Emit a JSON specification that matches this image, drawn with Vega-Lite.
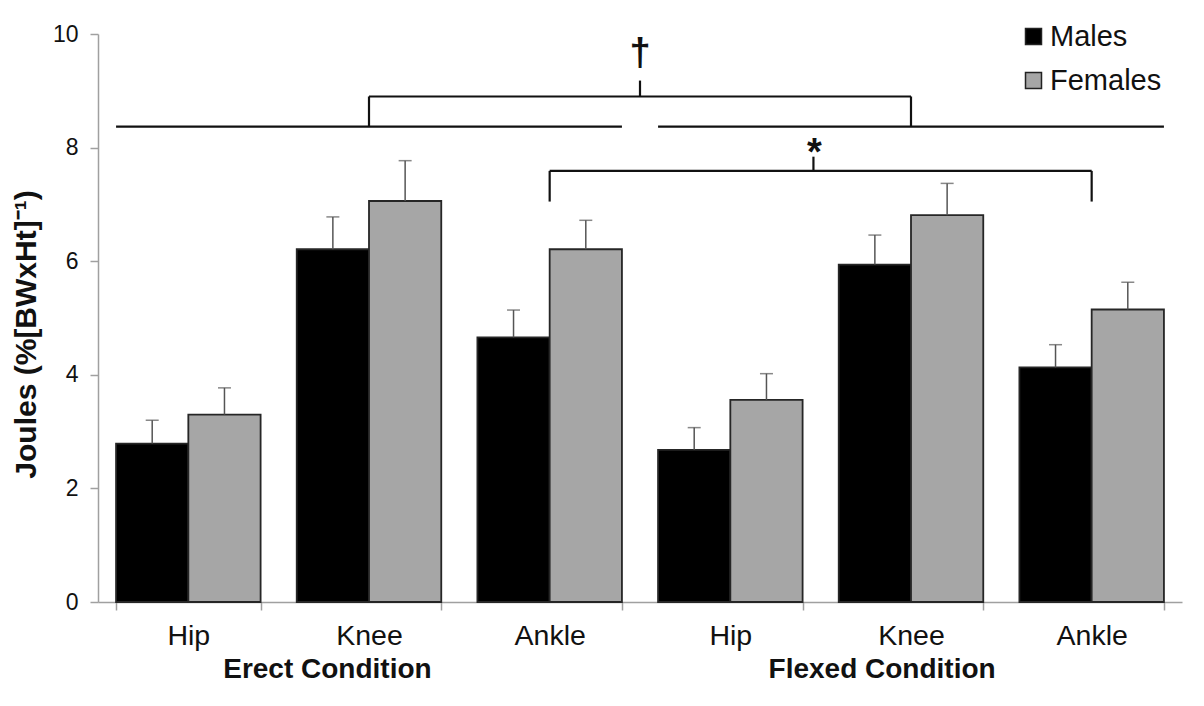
{
  "$schema": "https://vega.github.io/schema/vega-lite/v6.json",
  "width": 1084,
  "height": 568,
  "autosize": {"type": "none"},
  "padding": {"left": 98, "top": 34, "right": 22, "bottom": 104},
  "background": "white",
  "config": {"view": {"stroke": null}, "font": "Liberation Sans"},
  "datasets": {
    "bars": [
      {"key": "Erect|Hip", "sex": "Males", "value": 2.79, "upper": 3.20},
      {"key": "Erect|Hip", "sex": "Females", "value": 3.30, "upper": 3.77},
      {"key": "Erect|Knee", "sex": "Males", "value": 6.21, "upper": 6.78},
      {"key": "Erect|Knee", "sex": "Females", "value": 7.06, "upper": 7.77},
      {"key": "Erect|Ankle", "sex": "Males", "value": 4.66, "upper": 5.14},
      {"key": "Erect|Ankle", "sex": "Females", "value": 6.21, "upper": 6.72},
      {"key": "Flexed|Hip", "sex": "Males", "value": 2.68, "upper": 3.07},
      {"key": "Flexed|Hip", "sex": "Females", "value": 3.56, "upper": 4.02},
      {"key": "Flexed|Knee", "sex": "Males", "value": 5.94, "upper": 6.46},
      {"key": "Flexed|Knee", "sex": "Females", "value": 6.81, "upper": 7.37},
      {"key": "Flexed|Ankle", "sex": "Males", "value": 4.13, "upper": 4.53},
      {"key": "Flexed|Ankle", "sex": "Females", "value": 5.15, "upper": 5.63}
    ],
    "lines": [
      {"x": 0.1, "x2": 2.9, "y": 8.37, "y2": 8.37},
      {"x": 3.1, "x2": 5.9, "y": 8.37, "y2": 8.37},
      {"x": 1.5, "x2": 4.5, "y": 8.9, "y2": 8.9},
      {"x": 1.5, "x2": 1.5, "y": 8.37, "y2": 8.9},
      {"x": 4.5, "x2": 4.5, "y": 8.37, "y2": 8.9},
      {"x": 3.0, "x2": 3.0, "y": 8.9, "y2": 9.18},
      {"x": 2.5, "x2": 5.5, "y": 7.59, "y2": 7.59},
      {"x": 2.5, "x2": 2.5, "y": 7.05, "y2": 7.59},
      {"x": 5.5, "x2": 5.5, "y": 7.05, "y2": 7.59},
      {"x": 3.96, "x2": 3.96, "y": 7.59, "y2": 7.84}
    ],
    "symbols": [
      {"x": 3.0, "y": 9.46, "text": "†"},
      {"x": 3.965, "y": 7.7, "text": "*"}
    ],
    "conditions": [
      {"x": 1.27, "y": -1.34, "text": "Erect Condition"},
      {"x": 4.34, "y": -1.34, "text": "Flexed Condition"}
    ]
  },
  "layer": [
    {
      "data": {"name": "bars"},
      "encoding": {
        "x": {
          "field": "key",
          "type": "nominal",
          "sort": ["Erect|Hip", "Erect|Knee", "Erect|Ankle", "Flexed|Hip", "Flexed|Knee", "Flexed|Ankle"],
          "scale": {"paddingInner": 0.2, "paddingOuter": 0.1},
          "axis": {
            "title": null,
            "labelExpr": "split(datum.label, '|')[1]",
            "labelAngle": 0,
            "labelFontSize": 28.5,
            "labelColor": "#111111",
            "labelPadding": 11,
            "tickBand": "extent",
            "tickSize": 8,
            "tickColor": "#a0a0a0",
            "domainColor": "#a0a0a0",
            "tickWidth": 1.5,
            "domainWidth": 1.5
          }
        },
        "xOffset": {
          "field": "sex",
          "type": "nominal",
          "sort": ["Males", "Females"],
          "scale": {"paddingInner": 0, "paddingOuter": 0}
        }
      },
      "layer": [
        {
          "mark": {"type": "bar", "stroke": "#262626", "strokeWidth": 1.8},
          "encoding": {
            "y": {
              "field": "value",
              "type": "quantitative",
              "scale": {"domain": [0, 10], "nice": false},
              "axis": {
                "title": "Joules (%[BWxHt]⁻¹)",
                "titleFontSize": 30,
                "titleFontWeight": "bold",
                "titleColor": "#111111",
                "titlePadding": 11,
                "titleY": 300,
                "titleAlign": "center",
                "values": [0, 2, 4, 6, 8, 10],
                "format": "d",
                "labelFontSize": 23,
                "labelColor": "#111111",
                "labelPadding": 12,
                "tickSize": 8,
                "tickColor": "#a0a0a0",
                "domainColor": "#a0a0a0",
                "tickWidth": 1.5,
                "domainWidth": 1.5,
                "grid": false
              }
            },
            "color": {
              "field": "sex",
              "type": "nominal",
              "sort": ["Males", "Females"],
              "scale": {"domain": ["Males", "Females"], "range": ["#000000", "#a6a6a6"]},
              "legend": {
                "title": null,
                "orient": "none",
                "legendX": 921,
                "legendY": -12,
                "padding": 0,
                "symbolType": "square",
                "symbolSize": 256,
                "symbolStrokeColor": "#222222",
                "symbolStrokeWidth": 1.5,
                "labelFontSize": 29,
                "labelColor": "#111111",
                "labelOffset": 2,
                "rowPadding": 14
              }
            }
          }
        },
        {
          "mark": {"type": "rule", "color": "#555555", "strokeWidth": 1.5},
          "encoding": {
            "y": {"field": "value", "type": "quantitative"},
            "y2": {"field": "upper"}
          }
        },
        {
          "mark": {"type": "tick", "color": "#555555", "thickness": 1.5, "size": 13, "orient": "horizontal"},
          "encoding": {
            "y": {"field": "upper", "type": "quantitative"}
          }
        }
      ]
    },
    {
      "data": {"name": "lines"},
      "mark": {"type": "rule", "color": "#111111", "strokeWidth": 2.2},
      "encoding": {
        "x": {"field": "x", "type": "quantitative", "scale": {"domain": [0, 6], "nice": false, "zero": false}, "axis": null},
        "x2": {"field": "x2"},
        "y": {"field": "y", "type": "quantitative"},
        "y2": {"field": "y2"}
      }
    },
    {
      "data": {"name": "symbols"},
      "mark": {"type": "text", "fontSize": 38, "fontWeight": "bold", "color": "#111111", "baseline": "alphabetic", "align": "center"},
      "encoding": {
        "x": {"field": "x", "type": "quantitative", "scale": {"domain": [0, 6], "nice": false, "zero": false}, "axis": null},
        "y": {"field": "y", "type": "quantitative"},
        "text": {"field": "text"}
      }
    },
    {
      "data": {"name": "conditions"},
      "mark": {"type": "text", "fontSize": 28, "fontWeight": "bold", "color": "#111111", "baseline": "alphabetic", "align": "center"},
      "encoding": {
        "x": {"field": "x", "type": "quantitative", "scale": {"domain": [0, 6], "nice": false, "zero": false}, "axis": null},
        "y": {"field": "y", "type": "quantitative"},
        "text": {"field": "text"}
      }
    }
  ],
  "resolve": {"scale": {"x": "independent"}}
}
